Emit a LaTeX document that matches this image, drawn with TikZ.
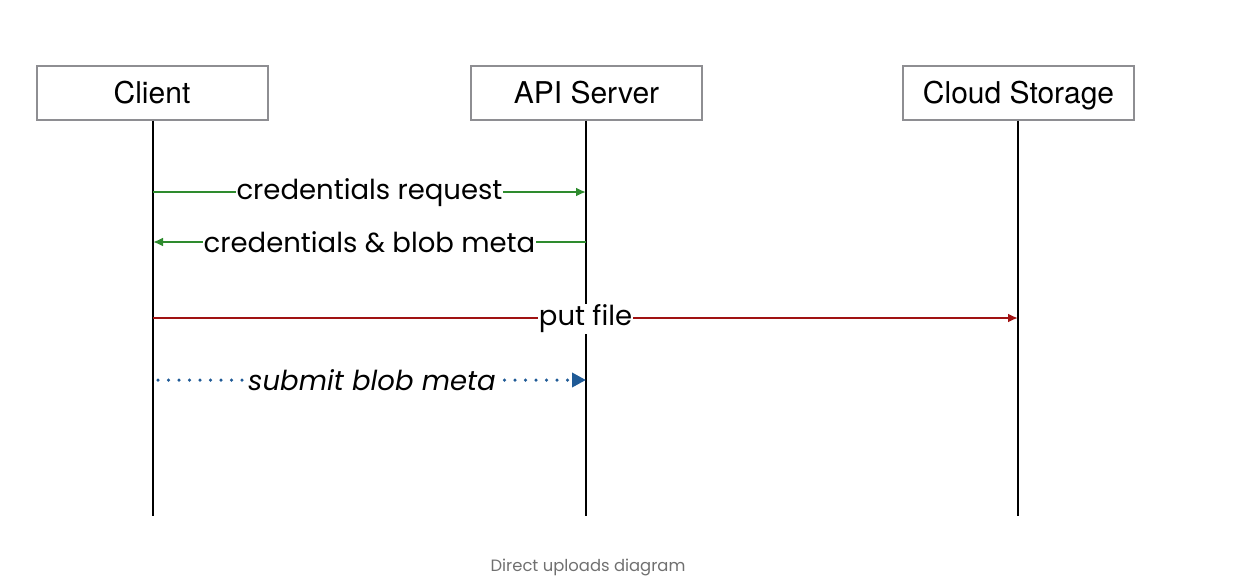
\documentclass[tikz,border=0pt]{standalone}
\usepackage{fontspec}
\setmainfont{Poppins}
\newfontfamily\headfont{TeX Gyre Heros}
\usetikzlibrary{arrows.meta}
\definecolor{boxgray}{HTML}{8E8E92}
\definecolor{msggreen}{HTML}{2E8B2E}
\definecolor{msgred}{HTML}{A01212}
\definecolor{msgblue}{HTML}{1F5A96}
\definecolor{capgray}{HTML}{707070}
\tikzset{
  actor/.style={draw=boxgray, line width=2pt, minimum width=231pt, minimum height=54pt, inner sep=0pt, text height=24pt, text depth=3pt, font=\headfont\fontsize{30}{34}\selectfont},
  lifeline/.style={line width=2.3pt, black},
  msglabel/.style={fill=white, inner sep=1pt, font=\fontsize{27.5}{32}\selectfont},
  greenmsg/.style={draw=msggreen, line width=2pt, -{Latex[length=10pt,width=9pt]}},
  redmsg/.style={draw=msgred, line width=2pt, -{Latex[length=10pt,width=9pt]}},
  bluemsg/.style={draw=msgblue, line width=3.5pt, line cap=round, dash pattern=on 0pt off 10.5pt, -{Triangle[length=14pt,width=14pt,line cap=butt]}}
}
\begin{document}
\begin{tikzpicture}[x=1pt,y=-1pt]
\useasboundingbox (0,0) rectangle (1257,587);
\node[actor] (client) at (152,92.5) {Client};
\node[actor] (api) at (586.5,92.5) {API Server};
\node[actor] (cloud) at (1018.5,92.5) {Cloud Storage};
\coordinate (cend) at (153,516);
\coordinate (aend) at (586,516);
\coordinate (send) at (1018,516);
\draw[lifeline] (client.south -| cend) -- (cend);
\draw[lifeline] (api.south -| aend) -- (aend);
\draw[lifeline] (cloud.south -| send) -- (send);
\coordinate (c1) at (153,192); \coordinate (a1) at (586,192);
\coordinate (c2) at (153,242); \coordinate (a2) at (586,242);
\coordinate (c3) at (153,318); \coordinate (s3) at (1018,318);
\coordinate (c4) at (158,380); \coordinate (a4) at (586,380);
\draw[greenmsg] (c1) -- node[msglabel, pos=0.5, yshift=-1pt] {credentials request} (a1);
\draw[greenmsg] (a2) -- node[msglabel, pos=0.5] {credentials \& blob meta} (c2);
\draw[redmsg] (c3) -- node[msglabel, pos=0.5, yshift=-1pt] {put file} (s3);
\draw[bluemsg] (c4) -- node[msglabel, pos=0.5, font=\fontsize{27.5}{32}\selectfont\itshape] {submit blob meta} (a4);
\node[text=capgray, font=\fontsize{16.4}{20}\selectfont] (cap) at (588,567) {Direct uploads diagram};
\end{tikzpicture}
\end{document}
